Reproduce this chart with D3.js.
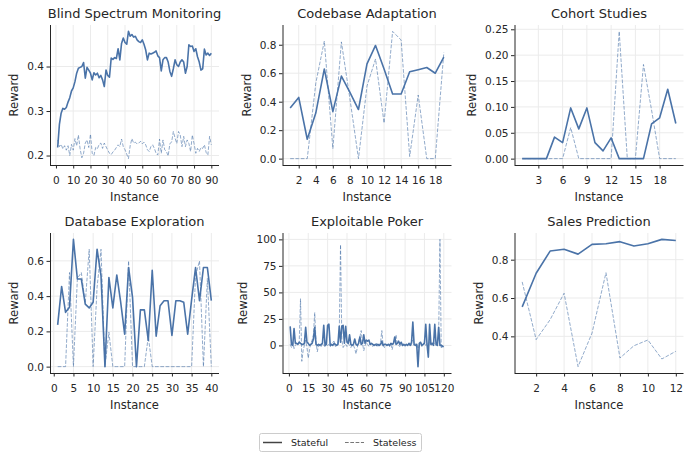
<!DOCTYPE html>
<html>
<head>
<meta charset="utf-8">
<script src="https://cdn.jsdelivr.net/npm/d3@7"></script>
<style>
  html, body { margin: 0; padding: 0; background: #fff; }
  svg { display: block; font-family: "DejaVu Sans", sans-serif; }
</style>
</head>
<body>
<svg id="chart" width="691" height="459"></svg>
<script>
// ---------------- DATA ----------------
const panelTitles = ["Blind Spectrum Monitoring", "Codebase Adaptation", "Cohort Studies",
                     "Database Exploration", "Exploitable Poker", "Sales Prediction"];
const seriesNames = ["Stateful", "Stateless"];

const blindStateful = [0.218,0.27,0.295,0.306,0.304,0.308,0.32,0.33,0.345,0.352,
  0.366,0.385,0.396,0.398,0.40,0.409,0.374,0.398,0.392,0.385,
  0.37,0.386,0.381,0.385,0.375,0.38,0.37,0.355,0.392,0.38,
  0.376,0.419,0.416,0.42,0.418,0.44,0.415,0.452,0.464,0.454,
  0.45,0.479,0.468,0.472,0.466,0.468,0.46,0.456,0.454,0.46,
  0.45,0.437,0.415,0.43,0.428,0.43,0.432,0.435,0.424,0.42,
  0.39,0.415,0.42,0.42,0.41,0.389,0.378,0.395,0.415,0.404,
  0.40,0.41,0.415,0.41,0.385,0.40,0.449,0.445,0.446,0.434,
  0.44,0.422,0.41,0.392,0.395,0.439,0.426,0.43,0.425,0.43];
const blindStateless = [0.235,0.22,0.225,0.215,0.222,0.212,0.222,0.2,0.225,0.212,
  0.238,0.222,0.246,0.215,0.195,0.205,0.228,0.235,0.218,0.248,
  0.205,0.2,0.218,0.215,0.225,0.228,0.216,0.228,0.22,0.212,
  0.205,0.202,0.208,0.212,0.218,0.224,0.22,0.237,0.22,0.213,
  0.203,0.193,0.222,0.238,0.228,0.23,0.226,0.228,0.232,0.226,
  0.23,0.224,0.213,0.209,0.22,0.224,0.216,0.205,0.201,0.237,
  0.205,0.235,0.213,0.209,0.199,0.227,0.23,0.254,0.239,0.227,
  0.254,0.246,0.22,0.243,0.22,0.235,0.227,0.209,0.246,0.227,
  0.205,0.216,0.209,0.218,0.216,0.224,0.207,0.201,0.243,0.224];
const blindXTicks = [0,10,20,30,40,50,60,70,80,90];
const blindYTicks = [0.2,0.3,0.4];
const blindYLabels = ["0.2","0.3","0.4"];

const codeStateful = [0.355,0.43,0.136,0.32,0.63,0.33,0.58,0.465,0.345,0.666,
  0.795,0.63,0.454,0.454,0.61,0.625,0.64,0.60,0.713];
const codeStateless = [0,0,0,0.53,0.826,0.07,0.82,0.42,0,0.51,
  0.70,0.25,0.894,0.833,0.015,0.447,0,0,0.745];
const codeXTicks = [2,4,6,8,10,12,14,16,18];
const codeYTicks = [0,0.2,0.4,0.6,0.8];
const codeYLabels = ["0.0","0.2","0.4","0.6","0.8"];

const cohortStateful = [0,0,0,0,0.0416,0.031,0.098,0.0575,0.098,0.031,
  0.015,0.04,0,0,0,0,0.067,0.079,0.134,0.068];
const cohortStateless = [0,0,0,0,0,0,0.06,0,0,0,
  0,0,0.246,0,0,0.182,0.094,0,0,0];
const cohortXTicks = [3,6,9,12,15,18];
const cohortYTicks = [0,0.05,0.10,0.15,0.20,0.25];
const cohortYLabels = ["0.00","0.05","0.10","0.15","0.20","0.25"];

const dbStateful = [0.237,0.455,0.308,0.337,0.722,0.497,0.497,0.355,0.333,0.365,
  0.666,0.515,0,0.506,0.333,0.52,0.365,0.184,0.562,0.393,
  0,0.322,0.322,0.149,0.547,0.173,0.346,0.374,0.374,0.177,
  0.374,0.374,0.365,0.184,0.38,0.562,0.374,0.562,0.562,0.374];
const dbStateless = [0,0,0,0.534,0,0.5,0.534,0.36,0.666,0,
  0.45,0.666,0,0.195,0,0,0,0,0.6,0,
  0,0,0,0.17,0,0,0,0,0,0,
  0,0,0,0,0,0.515,0.6,0,0.5,0];
const dbXTicks = [0,5,10,15,20,25,30,35,40];
const dbYTicks = [0,0.2,0.4,0.6];
const dbYLabels = ["0.0","0.2","0.4","0.6"];

const pokerStateful = [18,1,0,16,2,2,1,3,2,1,
  1,2,17,3,2,0,1,2,6,17,
  1,0,1,0,1,2,19,0,1,19,
  20,0,1,0,2,1,0,1,18,3,
  18,19,2,18,3,2,10,1,0,1,
  6,1,0,2,8,1,2,10,2,5,
  4,5,1,2,1,0,1,0,1,0,
  1,4,0,1,1,0,1,0,2,1,
  2,8,1,2,4,1,3,0,1,0,
  1,0,2,0,3,22,1,0,1,-20,
  2,3,0,1,2,20,1,-11,20,1,
  2,0,20,1,0,17,0,0,-1,-1];
const pokerStateless = [1,-2,2,-3,0,2,1,3,44,-15,
  -5,0,5,-2,-12,-4,2,5,10,31,
  4,-6,0,1,-1,2,0,-1,1,0,
  1,-1,0,3,4,-1,0,2,10,95,
  5,-2,0,1,-1,2,0,-2,1,0,
  -3,-8,-2,4,8,14,2,-5,0,3,
  1,-1,2,0,-1,1,0,2,-1,1,
  3,14,0,-2,1,0,2,-1,1,-4,
  2,4,10,1,0,-1,2,1,0,-1,
  1,0,2,-1,1,5,0,2,1,-3,
  0,2,-1,1,3,0,2,-2,4,1,
  0,3,1,0,2,10,100,-3,0,-1];
const pokerXTicks = [0,15,30,45,60,75,90,105,120];
const pokerYTicks = [0,25,50,75,100];
const pokerYLabels = ["0","25","50","75","100"];

const salesStateful = [0.554,0.729,0.845,0.854,0.829,0.88,0.883,0.894,0.871,0.883,0.906,0.90];
const salesStateless = [0.684,0.383,0.487,0.625,0.242,0.417,0.732,0.287,0.351,0.381,0.282,0.322];
const salesXTicks = [2,4,6,8,10,12];
const salesYTicks = [0.4,0.6,0.8];
const salesYLabels = ["0.4","0.6","0.8"];

// ---------------- LAYOUT / STYLE ----------------
const panels = [
  {title: panelTitles[0], s: blindStateful, d: blindStateless, xt: blindXTicks, yt: blindYTicks, yl: blindYLabels},
  {title: panelTitles[1], s: codeStateful, d: codeStateless, xt: codeXTicks, yt: codeYTicks, yl: codeYLabels},
  {title: panelTitles[2], s: cohortStateful, d: cohortStateless, xt: cohortXTicks, yt: cohortYTicks, yl: cohortYLabels},
  {title: panelTitles[3], s: dbStateful, d: dbStateless, xt: dbXTicks, yt: dbYTicks, yl: dbYLabels},
  {title: panelTitles[4], s: pokerStateful, d: pokerStateless, xt: pokerXTicks, yt: pokerYTicks, yl: pokerYLabels},
  {title: panelTitles[5], s: salesStateful, d: salesStateless, xt: salesXTicks, yt: salesYTicks, yl: salesYLabels}
];
const colX = [50, 282.5, 514.5];
const rowY = [25, 233];
const PW = 169, PH = 140;
const lineColor = "#4a73a8";
const ink = "#262626";

const svg = d3.select("#chart");

panels.forEach((p, k) => {
  const left = colX[k % 3], top = rowY[Math.floor(k / 3)];
  const n = p.s.length;
  const xpad = 0.05 * (n - 1);
  const x = d3.scaleLinear().domain([1 - xpad, n + xpad]).range([0, PW]);
  const ext = d3.extent(p.s.concat(p.d));
  const ypad = 0.05 * (ext[1] - ext[0]);
  const y = d3.scaleLinear().domain([ext[0] - ypad, ext[1] + ypad]).range([PH, 0]);

  const g = svg.append("g").attr("transform", `translate(${left},${top})`);

  // grid
  g.append("g").selectAll("line").data(p.xt).join("line")
    .attr("x1", d => x(d)).attr("x2", d => x(d)).attr("y1", 0).attr("y2", PH)
    .attr("stroke", "#ebebeb").attr("stroke-width", 1);
  g.append("g").selectAll("line").data(p.yt).join("line")
    .attr("y1", d => y(d)).attr("y2", d => y(d)).attr("x1", 0).attr("x2", PW)
    .attr("stroke", "#ebebeb").attr("stroke-width", 1);

  // lines
  const line = d3.line().x((d, i) => x(i + 1)).y(d => y(d));
  g.append("path").datum(p.d).attr("d", line)
    .attr("fill", "none").attr("stroke", lineColor).attr("stroke-opacity", 0.6)
    .attr("stroke-width", 1).attr("stroke-dasharray", "3.7,1.6");
  g.append("path").datum(p.s).attr("d", line)
    .attr("fill", "none").attr("stroke", lineColor).attr("stroke-width", 1.6)
    .attr("stroke-linejoin", "round");

  // axes
  const xa = g.append("g").attr("transform", `translate(0,${PH})`)
    .call(d3.axisBottom(x).tickValues(p.xt).tickFormat(d3.format("d"))
      .tickSize(3.5).tickSizeOuter(0).tickPadding(8));
  const ya = g.append("g")
    .call(d3.axisLeft(y).tickValues(p.yt).tickFormat((d, i) => p.yl[i])
      .tickSize(3.5).tickSizeOuter(0).tickPadding(2.5));
  [xa, ya].forEach(a => {
    a.select(".domain").attr("stroke", ink).attr("stroke-width", 1);
    a.selectAll(".tick line").attr("stroke", ink).attr("stroke-width", 1);
    a.selectAll(".tick text").attr("fill", ink).style("font-size", "10.5px")
      .style("font-family", "'DejaVu Sans', sans-serif");
  });
  // extend spines over full axes box
  ya.select(".domain").attr("d", `M0.5,0V${PH}`);
  xa.select(".domain").attr("d", `M0,0.5H${PW}`);

  const yb = ya.node().getBBox();

  // labels
  g.append("text").attr("x", PW / 2).attr("y", -7.5).attr("text-anchor", "middle")
    .attr("fill", ink).style("font-size", "13px").text(p.title);
  g.append("text").attr("x", PW / 2).attr("y", PH + 36).attr("text-anchor", "middle")
    .attr("fill", ink).style("font-size", "11.5px").text("Instance");
  g.append("text").attr("transform", `translate(${yb.x - 9},${PH / 2}) rotate(-90)`)
    .attr("text-anchor", "middle").attr("fill", ink).style("font-size", "11.5px").text("Reward");
});

// legend
const lg = svg.append("g");
lg.append("rect").attr("x", 259.5).attr("y", 433.5).attr("width", 162).attr("height", 18)
  .attr("rx", 2).attr("fill", "#fff").attr("stroke", "#cccccc").attr("stroke-width", 1);
const legendItems = [
  {name: seriesNames[0], x: 263, dash: null, color: "#444"},
  {name: seriesNames[1], x: 345, dash: "3.7,1.6", color: "#777"}
];
legendItems.forEach(it => {
  lg.append("line").attr("x1", it.x).attr("x2", it.x + 19).attr("y1", 442.5).attr("y2", 442.5)
    .attr("stroke", it.color).attr("stroke-width", it.dash ? 1 : 1.5)
    .attr("stroke-dasharray", it.dash);
  lg.append("text").attr("x", it.x + 28).attr("y", 446).attr("fill", ink)
    .style("font-size", "9.5px").text(it.name);
});
</script>
</body>
</html>
